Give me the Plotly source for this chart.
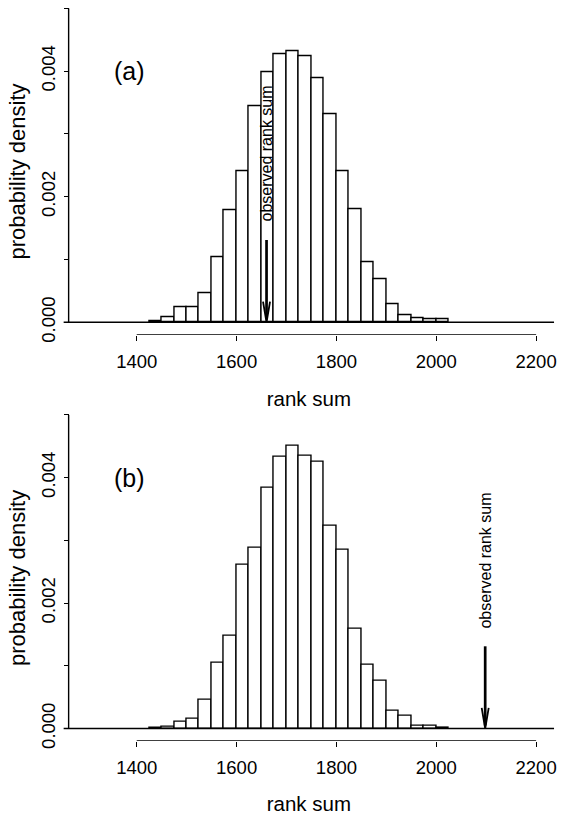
import plotly.graph_objects as go

# ---- data ----
bin_left = [1425, 1450, 1475, 1500, 1525, 1550, 1575, 1600, 1625, 1650, 1675, 1700,
            1725, 1750, 1775, 1800, 1825, 1850, 1875, 1900, 1925, 1950, 1975, 2000]
bin_width = 25
density_a = [0.00002, 0.00008, 0.00024, 0.00024, 0.00047, 0.00103, 0.00179, 0.00240,
             0.00344, 0.00398, 0.00427, 0.00431, 0.00423, 0.00388, 0.00331, 0.00240,
             0.00180, 0.00095, 0.00068, 0.00029, 0.00012, 0.00007, 0.00005, 0.00005]
density_b = [0.000016, 0.00003, 0.000105, 0.00016, 0.00046, 0.00104, 0.00148, 0.00261,
             0.00288, 0.00383, 0.00433, 0.00450, 0.00434, 0.00425, 0.00323, 0.00285,
             0.00159, 0.00102, 0.00076, 0.00028, 0.00021, 0.00005, 0.00004, 0.00001]
observed = {"a": 1660, "b": 2098}
panel_labels = {"a": "(a)", "b": "(b)"}
x_ticks = [1400, 1600, 1800, 2000, 2200]
y_ticks = [0.000, 0.001, 0.002, 0.003, 0.004, 0.005]
y_ticktext = ["0.000", "", "0.002", "", "0.004", ""]
arrow_top = 0.00131
text_center = 0.00268
label_pos = (1385, 0.0040)

W, H = 563, 815
FONT = "Liberation Sans, Arial, Helvetica, sans-serif"

fig = go.Figure()

x_range = [1253.6, 2235.9]
y_range = [-0.0002, 0.005]
x_dom = [64 / W, 557 / W]
y_doms = {"a": [1 - 338.2 / H, 1 - 8.3 / H], "b": [1 - 748.4 / H, 1 - 418.9 / H]}
yaxis_pos = 69 / W

centers = [b + bin_width / 2 for b in bin_left]

for i, (key, dens) in enumerate([("a", density_a), ("b", density_b)]):
    n = "" if i == 0 else "2"
    xa, ya = "x" + n, "y" + n
    fig.add_trace(go.Bar(x=centers, y=dens, width=bin_width, xaxis=xa, yaxis=ya,
                         marker=dict(color="white", line=dict(color="black", width=1.4)),
                         showlegend=False, hoverinfo="skip"))
    obs = observed[key]
    # arrow shaft
    fig.add_trace(go.Scatter(x=[obs, obs], y=[arrow_top, 0.00005], mode="lines",
                             line=dict(color="black", width=2.7), xaxis=xa, yaxis=ya,
                             showlegend=False, hoverinfo="skip"))
    # arrow head (open V)
    fig.add_trace(go.Scatter(x=[obs - 7, obs, obs + 7], y=[0.00033, 0.0, 0.00033], mode="lines",
                             line=dict(color="black", width=1.8), xaxis=xa, yaxis=ya,
                             showlegend=False, hoverinfo="skip"))
    # baseline across plot
    fig.add_shape(type="line", xref=xa + " domain", yref=ya, x0=0, x1=1, y0=0, y1=0,
                  line=dict(color="black", width=1.4))
    # x axis line from first to last tick
    fig.add_shape(type="line", xref=xa, yref=ya, x0=x_ticks[0], x1=x_ticks[-1],
                  y0=y_range[0], y1=y_range[0], line=dict(color="black", width=1.4))
    # y axis line from first to last tick
    fig.add_shape(type="line", xref="paper", yref=ya, x0=yaxis_pos, x1=yaxis_pos,
                  y0=y_ticks[0], y1=y_ticks[-1], line=dict(color="black", width=1.4))
    fig.add_annotation(x=obs, y=text_center, xref=xa, yref=ya, text="observed rank sum",
                       textangle=-90, showarrow=False, font=dict(family=FONT, size=16, color="black"))
    fig.add_annotation(x=label_pos[0], y=label_pos[1], xref=xa, yref=ya, text=panel_labels[key],
                       showarrow=False, font=dict(family=FONT, size=25, color="black"))

    fig.layout["xaxis" + n] = dict(domain=x_dom, range=x_range, anchor=ya, showgrid=False,
                                   zeroline=False, showline=False, ticks="outside", ticklen=5,
                                   tickwidth=1.4, tickcolor="black", tickvals=x_ticks,
                                   ticktext=[str(t) for t in x_ticks], ticklabelstandoff=5,
                                   tickfont=dict(family=FONT, size=18.5, color="black"),
                                   title=dict(text="rank sum", standoff=20,
                                              font=dict(family=FONT, size=20.5, color="black")))
    fig.layout["yaxis" + n] = dict(domain=y_doms[key], range=y_range, anchor="free",
                                   position=yaxis_pos, showgrid=False, zeroline=False,
                                   showline=False, ticks="outside", ticklen=5, tickwidth=1.4,
                                   tickcolor="black", tickvals=y_ticks, ticktext=y_ticktext,
                                   tickangle=-90, ticklabelstandoff=1,
                                   tickfont=dict(family=FONT, size=18.5, color="black"),
                                   title=dict(text="probability density", standoff=5,
                                              font=dict(family=FONT, size=22, color="black")))

fig.update_layout(width=W, height=H, margin=dict(l=0, r=0, t=0, b=0),
                  paper_bgcolor="white", plot_bgcolor="white", bargap=0)

fig.write_html("out.html")
